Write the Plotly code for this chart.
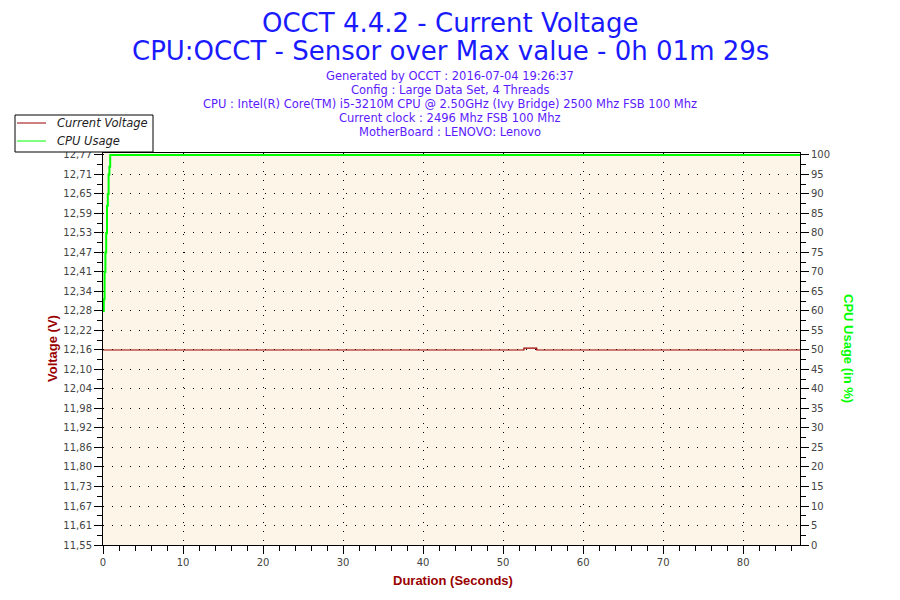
import numpy as np
import plotly.graph_objects as go

# data
volt_time = [0, 52.6, 54.2, 87.1]
volt_value = [12.16, 12.166, 12.16, 12.16]

cpu_time = [0, 0.1, 0.2, 0.3, 0.4, 0.5, 0.6, 0.7, 0.8, 0.9, 87.1]
cpu_value = [60, 63, 70, 75, 80, 87, 90, 95, 97, 100, 100]

volt_labels = ["11,55", "11,61", "11,67", "11,73", "11,80", "11,86", "11,92", "11,98",
               "12,04", "12,10", "12,16", "12,22", "12,28", "12,34", "12,41", "12,47",
               "12,53", "12,59", "12,65", "12,71", "12,77"]
volt_min, volt_max = 11.55, 12.77
cpu_min, cpu_max = 0, 100

title_lines = ["OCCT 4.4.2 - Current Voltage",
               "CPU:OCCT - Sensor over Max value - 0h 01m 29s"]
info_lines = ["Generated by OCCT : 2016-07-04 19:26:37",
              "Config : Large Data Set, 4 Threads",
              "CPU : Intel(R) Core(TM) i5-3210M CPU @ 2.50GHz (Ivy Bridge) 2500 Mhz FSB 100 Mhz",
              "Current clock : 2496 Mhz FSB 100 Mhz",
              "MotherBoard : LENOVO: Lenovo"]
legend_names = ["Current Voltage", "CPU Usage"]

FONT = "DejaVu Sans"
DARKRED = "#990000"
GREEN = "#00ff00"

# the page body adds an 8px offset; positions below are in screenshot pixels
OFF = 8
# plot area in screenshot pixels: x 103..800, y 153..545
L, R, T, B = 103, 800, 153, 545
# a little headroom above the top tick, as in the original
HEAD = 0.005


def px(x):
    return (x - L) / (R - L)


def py(y):
    return (B - y) / (B - T)


fig = go.Figure()
fig.add_trace(go.Scatter(x=volt_time, y=volt_value, mode="lines", line_shape="hv",
                         line=dict(color=DARKRED, width=1.2),
                         name=legend_names[0], yaxis="y"))
fig.add_trace(go.Scatter(x=cpu_time, y=cpu_value, mode="lines", line_shape="hv",
                         line=dict(color=GREEN, width=2),
                         name=legend_names[1], yaxis="y2"))

tick_font = dict(family=FONT, size=10, color="#444444")
grid = dict(showgrid=True, gridcolor="black", griddash="1px,8px", gridwidth=1)

fig.update_layout(
    width=900, height=600,
    margin=dict(l=L - OFF, r=900 - R + OFF, t=T - OFF, b=600 - B + OFF, autoexpand=False),
    paper_bgcolor="white",
    plot_bgcolor="#fdf6e8",
    font=dict(family=FONT),
    showlegend=False,
    xaxis=dict(range=[0, 87.1], dtick=10, tick0=0,
               showline=True, linecolor="black", linewidth=1, mirror=True,
               ticks="outside", ticklen=8, tickcolor="black",
               zeroline=False, tickfont=tick_font, **grid,
               minor=dict(dtick=2, ticks="outside", ticklen=5, tickcolor="black", showgrid=False)),
    yaxis=dict(range=[volt_min, volt_max + (volt_max - volt_min) * HEAD],
               tickvals=list(np.linspace(volt_min, volt_max, len(volt_labels))),
               ticktext=volt_labels,
               showline=True, linecolor="black", linewidth=1,
               ticks="outside", ticklen=8, tickcolor="black",
               zeroline=False, tickfont=tick_font, **grid,
               minor=dict(tickvals=list(np.linspace(volt_min, volt_max, 2 * len(volt_labels) - 1)),
                          ticks="outside", ticklen=5, tickcolor="black", showgrid=False)),
    yaxis2=dict(range=[cpu_min, cpu_max + (cpu_max - cpu_min) * HEAD], dtick=5, tick0=0,
                overlaying="y", side="right",
                showline=True, linecolor="black", linewidth=1,
                ticks="outside", ticklen=8, tickcolor="black",
                showgrid=False, zeroline=False, tickfont=tick_font,
                minor=dict(dtick=2.5, ticks="outside", ticklen=5, tickcolor="black")),
)

# titles
for text, y in zip(title_lines, [23, 51]):
    fig.add_annotation(text=text, xref="paper", yref="paper", x=px(450), xanchor="center",
                       y=py(y), yanchor="middle", showarrow=False, borderpad=0,
                       font=dict(family=FONT, size=26, color="#1a1aff"))

for i, line in enumerate(info_lines):
    fig.add_annotation(text=line, xref="paper", yref="paper", x=px(450), xanchor="center",
                       y=py(76 + i * 14), yanchor="middle", showarrow=False,
                       font=dict(family=FONT, size=11.5, color="#5b1aff"))

# axis titles
fig.add_annotation(text="<b>Voltage (V)</b>", xref="paper", yref="paper",
                   x=px(52), y=py(349), xanchor="center", yanchor="middle",
                   textangle=-90, showarrow=False,
                   font=dict(family="Liberation Sans", size=13, color=DARKRED))
fig.add_annotation(text="<b>CPU Usage (in %)</b>", xref="paper", yref="paper",
                   x=px(849), y=py(348), xanchor="center", yanchor="middle",
                   textangle=90, showarrow=False,
                   font=dict(family="Liberation Sans", size=13, color=GREEN))
fig.add_annotation(text="<b>Duration (Seconds)</b>", xref="paper", yref="paper",
                   x=px(453), y=py(580), xanchor="center", yanchor="middle",
                   showarrow=False,
                   font=dict(family="Liberation Sans", size=13, color=DARKRED))

# legend box drawn by hand to match its compact look
fig.add_shape(type="rect", xref="paper", yref="paper",
              x0=px(15), x1=px(153), y0=py(152), y1=py(115),
              line=dict(color="black", width=1), fillcolor="white")
for name, color, y in zip(legend_names, [DARKRED, GREEN], [123, 141]):
    fig.add_shape(type="line", xref="paper", yref="paper",
                  x0=px(17), x1=px(46), y0=py(y), y1=py(y),
                  line=dict(color=color, width=1))
    fig.add_annotation(text=f"<i>{name}</i>", xref="paper", yref="paper",
                       x=px(55), y=py(y), xanchor="left", yanchor="middle", showarrow=False,
                       font=dict(family=FONT, size=11.5, color="#222222"))

fig.write_html("out.html")
